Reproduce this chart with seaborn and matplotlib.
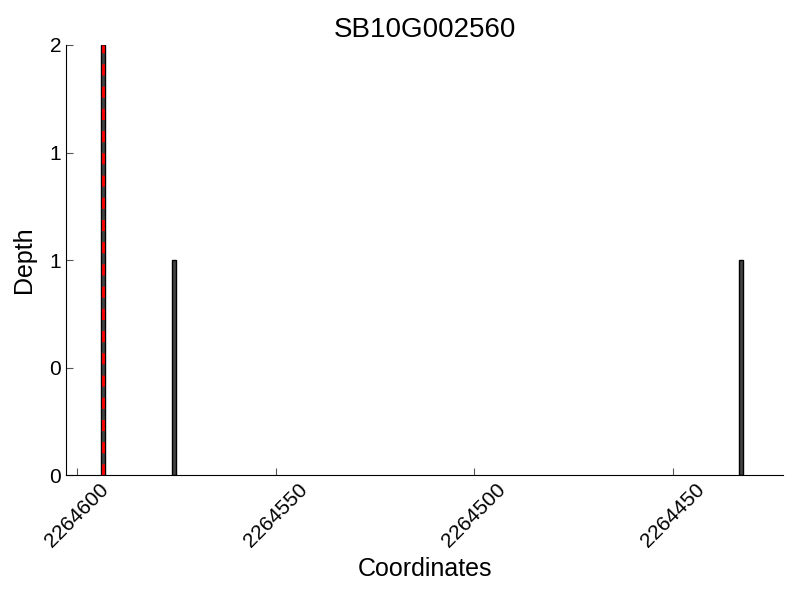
import matplotlib
matplotlib.use("Agg")
import matplotlib.pyplot as plt
import seaborn as sns
import pandas as pd
from matplotlib.ticker import FormatStrFormatter

coords = [2264593.5, 2264575.5, 2264432.8]
depths = [2, 1, 1]
marker_pos = 2264593.5
title = "SB10G002560"
xticks = [2264600, 2264550, 2264500, 2264450]
yticks = [0, 0.5, 1, 1.5, 2]

sns.set_style("ticks")
plt.rcParams['font.family'] = ['Liberation Sans', 'DejaVu Sans']
plt.rcParams['text.color'] = 'black'
plt.rcParams['axes.labelcolor'] = 'black'
plt.rcParams['xtick.color'] = 'black'
plt.rcParams['ytick.color'] = 'black'
plt.rcParams['axes.edgecolor'] = 'black'

df = pd.DataFrame({"Coordinates": coords, "Depth": depths})

fig = plt.figure(figsize=(8, 6), dpi=100)
ax = fig.add_axes([0.0825, 0.208, 0.8963, 0.717])
ax.bar(df["Coordinates"], df["Depth"], width=1.0, color="#444444",
       edgecolor="black", linewidth=1)
sns.despine(ax=ax)
ax.axvline(marker_pos, color="red", linestyle="--", linewidth=2, dashes=(4, 4))

ax.set_xlim(2264602.8, 2264422.2)
ax.set_ylim(0, 2)
ax.set_xticks(xticks)
ax.set_xticklabels([str(x) for x in xticks], rotation=45, ha="center", fontsize=15)
ax.set_yticks(yticks)
ax.yaxis.set_major_formatter(FormatStrFormatter("%d"))
ax.tick_params(axis="both", direction="in", labelsize=15, length=5, width=0.8,
               color="#555555")
ax.set_title(title, fontsize=20)
ax.set_xlabel("Coordinates", fontsize=18)
ax.set_ylabel("Depth", fontsize=18, labelpad=10)

fig.savefig("out.png", dpi=100)
